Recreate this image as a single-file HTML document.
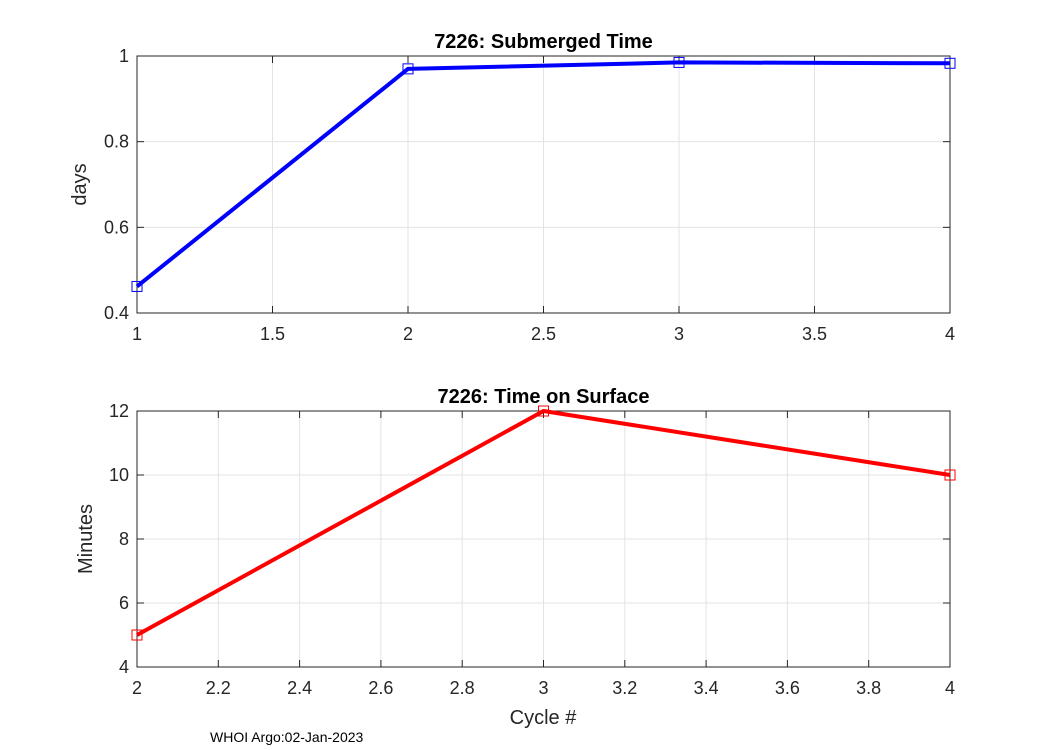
<!DOCTYPE html>
<html><head><meta charset="utf-8"><style>
body{margin:0;background:#fff;}
svg{display:block;font-family:"Liberation Sans",Arial,sans-serif;}
</style></head><body>
<svg id="chart" width="1050" height="750">
</svg>
<script>
const topCycles=[1,2,3,4];
const topValues=[0.462,0.97,0.985,0.983];
const topXTicks=[1,1.5,2,2.5,3,3.5,4];
const topYTicks=[0.4,0.6,0.8,1];
const botCycles=[2,3,4];
const botValues=[5,12,10];
const botXTicks=[2,2.2,2.4,2.6,2.8,3,3.2,3.4,3.6,3.8,4];
const botYTicks=[4,6,8,10,12];
const NS='http://www.w3.org/2000/svg';
const svg=document.getElementById('chart');
function mk(t,a,p){const e=document.createElementNS(NS,t);for(const k in a)e.setAttribute(k,a[k]);(p||svg).appendChild(e);return e;}
function panel(o){
  const g=mk('g',{});
  
  
  const L=137,R=950,T=o.top,B=o.bottom;
  const sx=v=>L+(v-o.xmin)/(o.xmax-o.xmin)*(R-L);
  const sy=v=>B-(v-o.ymin)/(o.ymax-o.ymin)*(B-T);
  mk('rect',{x:L,y:T,width:R-L,height:B-T,fill:'#fff'},g);
  o.xt.forEach(v=>{const x=sx(v);
    const l=mk('line',{x1:x,x2:x,y1:T,y2:B,stroke:'#e3e3e3','stroke-width':1},g);
    
    mk('line',{x1:x,x2:x,y1:B,y2:B-7,stroke:'#262626'},g);mk('line',{x1:x,x2:x,y1:T,y2:T+7,stroke:'#262626'},g);
    const t=mk('text',{x:x,y:B+27,'font-size':18,'text-anchor':'middle',fill:'#262626'},g);t.textContent=String(v);
    });
  o.yt.forEach(v=>{const y=sy(v);
    const l=mk('line',{x1:L,x2:R,y1:y,y2:y,stroke:'#e3e3e3','stroke-width':1},g);
    
    mk('line',{x1:L,x2:L+7,y1:y,y2:y,stroke:'#262626'},g);mk('line',{x1:R,x2:R-7,y1:y,y2:y,stroke:'#262626'},g);
    const t=mk('text',{x:L-8,y:y+6,'font-size':18,'text-anchor':'end',fill:'#262626'},g);t.textContent=String(v);
    });
  const box=mk('rect',{x:L,y:T,width:R-L,height:B-T,fill:'none',stroke:'#262626','stroke-width':1},g);
  
  const pts=o.xs.map((x,i)=>sx(x)+','+sy(o.ys[i])).join(' ');
  const pl=mk('polyline',{points:pts,fill:'none',stroke:o.color,'stroke-width':4,'stroke-linejoin':'round'},g);
  
  o.xs.forEach((x,i)=>{const m=mk('rect',{x:sx(x)-5,y:sy(o.ys[i])-5,width:10,height:10,fill:'none',stroke:o.color,'stroke-width':1},g);
    });
  const ti=mk('text',{x:(L+R)/2,y:T-8,'font-size':20,'font-weight':'bold','text-anchor':'middle',fill:'#000'},g);ti.textContent=o.title;
  
  const yl=mk('text',{x:0,y:0,'font-size':20,'text-anchor':'middle',fill:'#262626',transform:`translate(${o.ylx},${(T+B)/2}) rotate(-90)`},g);yl.textContent=o.ylabel;
  
}
panel({name:'submerged-time-panel',top:56,bottom:313,xmin:1,xmax:4,ymin:0.4,ymax:1,xt:topXTicks,yt:topYTicks,xs:topCycles,ys:topValues,color:'#0000ff',lineName:'submerged-line',title:'7226: Submerged Time',ylabel:'days',ylx:86});
panel({name:'surface-time-panel',top:411,bottom:667,xmin:2,xmax:4,ymin:4,ymax:12,xt:botXTicks,yt:botYTicks,xs:botCycles,ys:botValues,color:'#ff0000',lineName:'surface-line',title:'7226: Time on Surface',ylabel:'Minutes',ylx:92});
const xl=mk('text',{x:543,y:724,'font-size':20,'text-anchor':'middle',fill:'#262626'});xl.textContent='Cycle #';

const ft=mk('text',{x:210,y:742,'font-size':14,fill:'#000'});ft.textContent='WHOI Argo:02-Jan-2023';

</script>
</body></html>
